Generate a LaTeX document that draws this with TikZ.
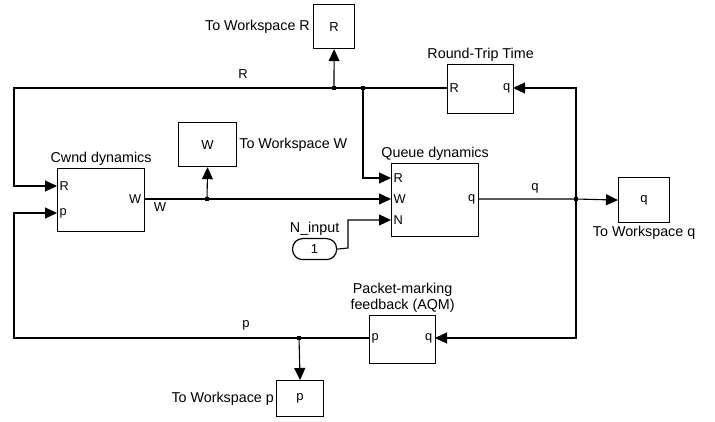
\documentclass[tikz,border=0pt]{standalone}
\usepackage{fontspec}
\setmainfont{Liberation Sans}
\usepackage{tikz}
\usetikzlibrary{positioning,arrows.meta}
\definecolor{ink}{HTML}{000000}
\tikzset{
  blk/.style={draw=ink, fill=white, line width=1.2pt, anchor=north west, inner sep=0pt,
              font=\fontsize{13}{15}\selectfont},
  ttl/.style={font=\fontsize{14.3}{16}\selectfont, inner sep=2pt, align=center},
  prt/.style={font=\fontsize{12.8}{14}\selectfont, inner sep=2.5pt},
  sig/.style={font=\fontsize{13}{15}\selectfont, inner sep=0pt},
  wire/.style={line width=1.1pt, color=ink},
  ar/.style={wire, -{Triangle[length=12pt,width=11pt]}},
  jn/.style={fill=ink, inner sep=0pt, minimum size=4.8pt},
}

\begin{document}
\begin{tikzpicture}[x=1pt, y=-1pt]
\useasboundingbox (0,0) rectangle (715,422);

\node[blk, minimum width=87pt, minimum height=63pt] (cwnd)  at (57,168)  {};
\node[blk, minimum width=87pt, minimum height=73pt] (queue) at (391,163) {};
\node[blk, minimum width=66pt, minimum height=49pt] (rtt)   at (447,64)  {};
\node[blk, minimum width=66pt, minimum height=48pt] (aqm)   at (369,315) {};
\node[blk, minimum width=41pt, minimum height=44pt] (wsR)   at (313,4)   {R};
\node[blk, minimum width=58pt, minimum height=44pt] (wsW)   at (178,122) {W};
\node[blk, minimum width=51pt, minimum height=45pt] (wsq)   at (618,177) {q};
\node[blk, minimum width=47pt, minimum height=36pt] (wsp)   at (276,380) {p};
\node[blk, minimum width=44pt, minimum height=21pt, rounded corners=10pt] (nin) at (292,238) {1};

\node[ttl, above=0pt of cwnd]  (cwndT)  {Cwnd dynamics};
\node[ttl, above=0pt of queue] (queueT) {Queue dynamics};
\node[ttl, above=0pt of rtt]   (rttT)   {Round-Trip Time};
\node[ttl, above=0pt of aqm]   (aqmT)   {Packet-marking\\feedback (AQM)};
\node[ttl, above=0pt of nin]   (ninT)   {N\_input};
\node[ttl, left=1pt of wsR]    (wsRT)   {To Workspace R};
\node[ttl, right=0pt of wsW]   (wsWT)   {To Workspace W};
\node[ttl, below=1pt of wsq]   (wsqT)   {To Workspace q};
\node[ttl, left=0pt of wsp]    (wspT)   {To Workspace p};

\coordinate (cwndR) at (57,186);
\coordinate (cwndp) at (57,213);
\coordinate (cwndW) at (144,199);
\coordinate (queueR) at (391,178);
\coordinate (queueW) at (391,199);
\coordinate (queueN) at (391,220);
\coordinate (queueq) at (478,199);
\coordinate (rttR) at (447,88);
\coordinate (rttq) at (513,88);
\coordinate (aqmp) at (369,338);
\coordinate (aqmq) at (435,338);

\node[prt, anchor=west] (cwndRl) at (cwndR) {R};
\node[prt, anchor=west] (cwndpl) at (cwndp) {p};
\node[prt, anchor=east] (cwndWl) at (cwndW) {W};
\node[prt, anchor=west] (queueRl) at (queueR) {R};
\node[prt, anchor=west] (queueWl) at (queueW) {W};
\node[prt, anchor=west] (queueNl) at (queueN) {N};
\node[prt, anchor=east] (queueql) at (queueq) {q};
\node[prt, anchor=west] (rttRl) at (rttR) {R};
\node[prt, anchor=east] (rttql) at (rttq) {q};
\node[prt, anchor=west] (aqmpl) at (aqmp) {p};
\node[prt, anchor=east] (aqmql) at (aqmq) {q};

\coordinate (jR1) at (334,88);
\coordinate (jR2) at (363,88);
\coordinate (jW) at (207,199);
\coordinate (jq) at (576,199);
\coordinate (jp) at (299,338);
\coordinate (cRl) at (14,88);
\coordinate (cpl) at (14,338);
\coordinate (nbend) at (348,248);

\draw[ar] (rttR) -- (jR2) -- (jR1) -- (cRl) |- (cwndR);
\draw[ar] (jR1) -- (wsR.south);
\draw[ar] (jR2) |- (queueR);
\draw[ar] (cwndW) -- (jW) -- (queueW);
\draw[ar] (jW) -- (wsW.south);
\draw[ar] (queueq) -- (jq) -- (wsq.west);
\draw[ar] (jq) |- (rttq);
\draw[ar] (jq) |- (aqmq);
\draw[ar] (aqmp) -- (jp) -- (cpl) |- (cwndp);
\draw[ar] (jp) -- (wsp.north);
\draw[ar] (nin.east) -- (nbend) |- (queueN);

\node[jn] (dR1) at (jR1) {};
\node[jn] (dR2) at (jR2) {};
\node[jn] (dW) at (jW) {};
\node[jn] (dq) at (jq) {};
\node[jn] (dp) at (jp) {};

\node[sig] (lR) at (243,74) {R};
\node[sig] (lW) at (160,207) {W};
\node[sig] (lq) at (535,188) {q};
\node[sig] (lp) at (246,325) {p};
\end{tikzpicture}
\end{document}
